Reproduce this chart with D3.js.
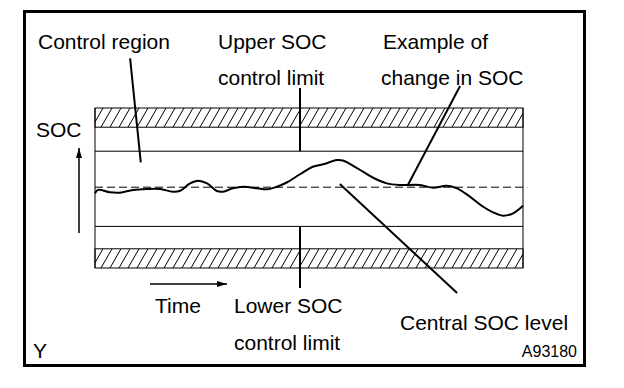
<!DOCTYPE html>
<html>
<head>
<meta charset="utf-8">
<script src="https://cdn.jsdelivr.net/npm/d3@7"></script>
<style>
  body { margin: 0; background: #fff; }
  text { font-family: "Liberation Sans", Arial, sans-serif; fill: #000; }
</style>
</head>
<body>
<svg id="chart" width="624" height="388"></svg>
<script>
// time axis runs 0..100, SOC axis 0..100 (arbitrary units)
const times = [0, 0.7, 3.5, 5.8, 8.9, 12.1, 15.2, 18.2, 19.9, 22.2, 24.1, 26.2, 28.5, 29.9,
  32.2, 34.6, 37.9, 40.2, 42.5, 44.9, 47.9, 50.9, 53.3, 56.5, 57.9, 60.3, 62.6, 65.0,
  68.2, 71.3, 75.9, 79.0, 82.2, 84.6, 87.6, 90.7, 93.0, 95.3, 97.7, 100];
const socValues = [46.7, 48.8, 47.3, 47.1, 48.8, 49.4, 49.4, 47.7, 48.3, 52.9, 54.6, 52.9, 48.1, 47.7,
  49.8, 50.8, 49.8, 49.2, 50.8, 53.6, 58.6, 63.3, 64.8, 67.5, 67.2, 63.9, 60.2, 56.4,
  52.9, 51.9, 51.9, 50.2, 51.4, 49.8, 44.6, 38.3, 34.8, 32.7, 34.2, 38.9];

// SOC levels
const hatchBands = [[88, 100], [0, 12]];
const limitLevels = [73, 26];   // upper, lower SOC control limit
const centralLevel = 50.5;

// leader lines [t1, soc1, t2, soc2]
const leaders = [
  [8.2, 131, 10.7, 66],      // control region
  [47.9, 112.5, 47.9, 73],   // upper limit
  [47.9, 26, 47.9, -12.5],   // lower limit
  [85.3, 113.8, 73.1, 51.9], // example of change
  [57.2, 52.5, 84.6, -15.6]  // central level
];

const labels = [
  { text: "Control region", x: 38, y: 49 },
  { text: "Upper SOC", x: 218, y: 49 },
  { text: "control limit", x: 218, y: 85 },
  { text: "Example of", x: 383, y: 49 },
  { text: "change in SOC", x: 381, y: 85 },
  { text: "SOC", x: 36, y: 137 },
  { text: "Time", x: 155, y: 313 },
  { text: "Lower SOC", x: 234, y: 313 },
  { text: "control limit", x: 234, y: 350 },
  { text: "Central SOC level", x: 400, y: 330 },
  { text: "Y", x: 33, y: 358 }
];

const svg = d3.select("#chart");

const x = d3.scaleLinear().domain([0, 100]).range([95, 523]);
const y = d3.scaleLinear().domain([0, 100]).range([268, 108]);

// outer frame
svg.append("rect")
  .attr("x", 24.5).attr("y", 11.5)
  .attr("width", 560).attr("height", 354)
  .attr("fill", "none").attr("stroke", "#000").attr("stroke-width", 3);

// hatched bands
const defs = svg.append("defs");
hatchBands.forEach((b, i) => {
  const x0 = x(0), x1 = x(100), yTop = y(b[1]), yBot = y(b[0]);
  defs.append("clipPath").attr("id", "clip" + i)
    .append("rect").attr("x", x0).attr("y", yTop)
    .attr("width", x1 - x0).attr("height", yBot - yTop);
  const g = svg.append("g").attr("clip-path", `url(#clip${i})`);
  g.selectAll("line").data(d3.range(x0 - 12, x1 + 12, 9)).join("line")
    .attr("x1", d => d).attr("y1", yBot)
    .attr("x2", d => d + 11).attr("y2", yTop)
    .attr("stroke", "#000").attr("stroke-width", 1);
  svg.append("rect")
    .attr("x", x0).attr("y", yTop)
    .attr("width", x1 - x0).attr("height", yBot - yTop)
    .attr("fill", "none").attr("stroke", "#000").attr("stroke-width", 1);
});

// side edges of the control band
[0, 100].forEach(t => {
  svg.append("line")
    .attr("x1", x(t)).attr("x2", x(t))
    .attr("y1", y(100)).attr("y2", y(0))
    .attr("stroke", "#000").attr("stroke-width", 1);
});

// control limits
svg.selectAll(".limit").data(limitLevels).join("line")
  .attr("class", "limit")
  .attr("x1", x(0)).attr("x2", x(100))
  .attr("y1", d => y(d)).attr("y2", d => y(d))
  .attr("stroke", "#000").attr("stroke-width", 1);

// central SOC level
svg.append("line")
  .attr("x1", x(0)).attr("x2", x(101))
  .attr("y1", y(centralLevel)).attr("y2", y(centralLevel))
  .attr("stroke", "#000").attr("stroke-width", 1)
  .attr("stroke-dasharray", "8,4");

// SOC curve
const line = d3.line()
  .x((d, i) => x(times[i]))
  .y(d => y(d))
  .curve(d3.curveCatmullRom);
svg.append("path")
  .attr("d", line(socValues))
  .attr("fill", "none").attr("stroke", "#000").attr("stroke-width", 2);

// leaders
svg.selectAll(".leader").data(leaders).join("line")
  .attr("class", "leader")
  .attr("x1", d => x(d[0])).attr("y1", d => y(d[1]))
  .attr("x2", d => x(d[2])).attr("y2", d => y(d[3]))
  .attr("stroke", "#000").attr("stroke-width", 2);

// axis arrows
defs.append("marker").attr("id", "arrow")
  .attr("viewBox", "0 0 10 6").attr("refX", 10).attr("refY", 3)
  .attr("markerWidth", 10).attr("markerHeight", 6)
  .attr("markerUnits", "userSpaceOnUse").attr("orient", "auto")
  .append("path").attr("d", "M0,0L10,3L0,6Z").attr("fill", "#000");

svg.append("line")
  .attr("x1", 79).attr("y1", 233).attr("x2", 79).attr("y2", 148)
  .attr("stroke", "#000").attr("stroke-width", 1.5).attr("marker-end", "url(#arrow)");
svg.append("line")
  .attr("x1", 150).attr("y1", 284).attr("x2", 227).attr("y2", 284)
  .attr("stroke", "#000").attr("stroke-width", 1.5).attr("marker-end", "url(#arrow)");

// labels
svg.selectAll(".lbl").data(labels).join("text")
  .attr("class", "lbl")
  .attr("x", d => d.x).attr("y", d => d.y)
  .attr("font-size", 21)
  .text(d => d.text);

svg.append("text")
  .attr("x", 577).attr("y", 357)
  .attr("text-anchor", "end")
  .attr("font-size", 16)
  .text("A93180");
</script>
</body>
</html>
